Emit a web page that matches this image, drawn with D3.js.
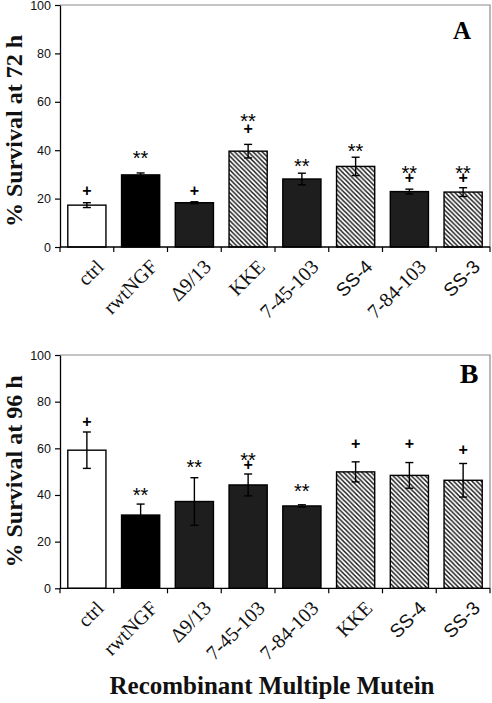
<!DOCTYPE html>
<html>
<head>
<meta charset="utf-8">
<script src="https://cdn.jsdelivr.net/npm/d3@7"></script>
<style>
  html, body { margin: 0; padding: 0; background: #fff; }
  svg { display: block; }
</style>
</head>
<body>
<svg id="chart" width="492" height="703"></svg>
<script>
// ---------- data ----------
const categoriesA = ["ctrl", "rwtNGF", "Δ9/13", "KKE", "7-45-103", "SS-4", "7-84-103", "SS-3"];
const valuesA     = [17.3, 29.8, 18.3, 39.6, 28.1, 33.3, 22.9, 22.7];
const errorsA     = [1.0, 0.8, 0.4, 2.8, 2.4, 3.8, 1.0, 1.8];
const fillTypesA  = ["open", "black", "dark", "hatch", "dark", "hatch", "dark", "hatch"];
const starsA      = [null, 38.8, null, 53.8, 35.1, 41.3, 32.2, 32.2];   // "**" level
const plusA       = [23.3, null, 23.3, 48.8, null, null, 28.5, 28.5];   // "+" level

const categoriesB = ["ctrl", "rwtNGF", "Δ9/13", "7-45-103", "7-84-103", "KKE", "SS-4", "SS-3"];
const valuesB     = [59.2, 31.4, 37.2, 44.3, 35.3, 49.9, 48.4, 46.3];
const errorsB     = [7.8, 4.7, 10.2, 4.7, 0.5, 4.3, 5.5, 7.2];
const fillTypesB  = ["open", "black", "dark", "dark", "dark", "hatch", "hatch", "hatch"];
const starsB      = [null, 41.8, 54.0, 56.8, 43.5, null, null, null];
const plusB       = [71.4, null, null, 53.1, null, 61.9, 61.9, 59.3];

const yTicks = [0, 20, 40, 60, 80, 100];
const sansLabels = ["SS-4", "SS-3"];

const yTitleA = "% Survival at 72 h";
const yTitleB = "% Survival at 96 h";
const xTitle = "Recombinant Multiple Mutein";

// ---------- drawing ----------
const svg = d3.select("#chart");
const defs = svg.append("defs");
const pat = defs.append("pattern")
  .attr("id", "hatch").attr("patternUnits", "userSpaceOnUse")
  .attr("width", 4.6).attr("height", 4.6);
pat.append("rect").attr("width", 4.6).attr("height", 4.6).attr("fill", "#fff");
pat.append("path")
  .attr("d", "M-1,-1 L5.6,5.6 M-1,3.6 L1,5.6 M3.6,-1 L5.6,1")
  .attr("stroke", "#111").attr("stroke-width", 1.4);

const fillFor = t => t === "open" ? "#fff" : t === "black" ? "#000" : t === "dark" ? "#1e1e1e" : "url(#hatch)";

const plotLeft = 60, plotRight = 490;

function panel(cfg) {
  const g = svg.append("g");
  const x = d3.scaleBand().domain(cfg.categories).range([plotLeft, plotRight])
    .paddingInner(0.29).paddingOuter(0.145);
  const y = d3.scaleLinear().domain([0, 100]).range([cfg.yBottom, cfg.yTop]);
  const step = x.step();

  // frame (top & right)
  g.append("path")
    .attr("d", `M${plotLeft},${y(100)} H${plotRight} V${y(0)}`)
    .attr("fill", "none").attr("stroke", "#8a8a8a").attr("stroke-width", 1.2);

  // bars
  g.selectAll("rect.bar").data(cfg.categories).join("rect")
    .attr("class", "bar")
    .attr("x", d => x(d))
    .attr("y", (d, i) => y(cfg.values[i]))
    .attr("width", x.bandwidth())
    .attr("height", (d, i) => y(0) - y(cfg.values[i]))
    .attr("fill", (d, i) => fillFor(cfg.fills[i]))
    .attr("stroke", "#000").attr("stroke-width", 1.4);

  // error bars
  const eb = g.selectAll("g.eb").data(cfg.categories).join("g").attr("class", "eb");
  const cx = d => x(d) + x.bandwidth() / 2;
  eb.append("line")
    .attr("x1", cx).attr("x2", cx)
    .attr("y1", (d, i) => y(cfg.values[i] - cfg.errors[i]))
    .attr("y2", (d, i) => y(cfg.values[i] + cfg.errors[i]))
    .attr("stroke", "#000").attr("stroke-width", 1.4);
  [-1, 1].forEach(s => {
    eb.append("line")
      .attr("x1", d => cx(d) - 4).attr("x2", d => cx(d) + 4)
      .attr("y1", (d, i) => y(cfg.values[i] + s * cfg.errors[i]))
      .attr("y2", (d, i) => y(cfg.values[i] + s * cfg.errors[i]))
      .attr("stroke", "#000").attr("stroke-width", 1.4);
  });

  // significance marks: one text per bar, "**" and "+" as tspans
  const sfs = 20, pfs = 16;
  const marked = cfg.categories.map((d, i) => ({ d, i })).filter(o => cfg.stars[o.i] != null || cfg.plus[o.i] != null);
  const mt = g.selectAll("text.mark").data(marked).join("text")
    .attr("class", "mark")
    .attr("text-anchor", "middle")
    .attr("font-family", "Liberation Sans, Arial, sans-serif")
    .attr("fill", "#000");
  mt.each(function (o) {
    const t = d3.select(this);
    if (cfg.stars[o.i] != null) {
      t.append("tspan").attr("x", cx(o.d))
        .attr("y", y(cfg.stars[o.i]) + 0.57 * sfs)
        .attr("font-size", sfs).text("**");
    }
    if (cfg.plus[o.i] != null) {
      t.append("tspan").attr("x", cx(o.d))
        .attr("y", y(cfg.plus[o.i]) + 0.34 * pfs)
        .attr("font-size", pfs).attr("font-weight", "bold").text("+");
    }
  });

  // y axis
  const ya = g.append("g").attr("transform", `translate(${plotLeft},0)`)
    .call(d3.axisLeft(y).tickValues(yTicks).tickSize(5).tickSizeOuter(0).tickPadding(4));
  ya.select(".domain").attr("stroke", "#000").attr("stroke-width", 1.3);
  ya.selectAll(".tick line").attr("stroke", "#000").attr("stroke-width", 1.2);
  ya.selectAll(".tick text")
    .attr("font-family", "Liberation Sans, Arial, sans-serif")
    .attr("font-size", 12.5).attr("fill", "#111");

  // x axis line + ticks at band boundaries
  g.append("line").attr("x1", plotLeft).attr("x2", plotRight)
    .attr("y1", y(0)).attr("y2", y(0)).attr("stroke", "#000").attr("stroke-width", 1.3);
  const bounds = d3.range(cfg.categories.length + 1).map(i => plotLeft + i * step);
  g.selectAll("line.xt").data(bounds).join("line")
    .attr("class", "xt")
    .attr("x1", d => d).attr("x2", d => d)
    .attr("y1", y(0)).attr("y2", y(0) + 5)
    .attr("stroke", "#000").attr("stroke-width", 1.2);

  // category labels, rotated
  g.selectAll("text.cat").data(cfg.categories).join("text")
    .attr("class", "cat")
    .attr("transform", d => `translate(${cx(d) + 18},${y(0) + 21}) rotate(-45)`)
    .attr("text-anchor", "end")
    .attr("font-family", d => sansLabels.includes(d) ? "Liberation Sans, Arial, sans-serif" : "Liberation Serif, Times New Roman, serif")
    .attr("font-size", d => sansLabels.includes(d) ? 19 : 20)
    .attr("fill", "#111")
    .text(d => d);

  // y title
  g.append("text")
    .attr("transform", `translate(22,${cfg.titleY}) rotate(-90)`)
    .attr("text-anchor", "middle")
    .attr("font-family", "Liberation Serif, Times New Roman, serif")
    .attr("font-weight", "bold").attr("font-size", 24).attr("fill", "#111")
    .text(cfg.title);

  // panel letter
  g.append("text")
    .attr("x", cfg.letterX).attr("y", cfg.letterY)
    .attr("text-anchor", "middle")
    .attr("font-family", "Liberation Serif, Times New Roman, serif")
    .attr("font-weight", "bold").attr("font-size", cfg.letterSize).attr("fill", "#000")
    .text(cfg.letter);
}

panel({
  categories: categoriesA, values: valuesA, errors: errorsA, fills: fillTypesA,
  stars: starsA, plus: plusA, yTop: 5, yBottom: 247,
  title: yTitleA, titleY: 131, letter: "A", letterX: 462, letterY: 39, letterSize: 25
});
panel({
  categories: categoriesB, values: valuesB, errors: errorsB, fills: fillTypesB,
  stars: starsB, plus: plusB, yTop: 355, yBottom: 588.3,
  title: yTitleB, titleY: 471.5, letter: "B", letterX: 469, letterY: 383, letterSize: 28
});

svg.append("text")
  .attr("x", 272).attr("y", 694)
  .attr("text-anchor", "middle")
  .attr("font-family", "Liberation Serif, Times New Roman, serif")
  .attr("font-weight", "bold").attr("font-size", 25).attr("fill", "#111")
  .text(xTitle);
</script>
</body>
</html>
